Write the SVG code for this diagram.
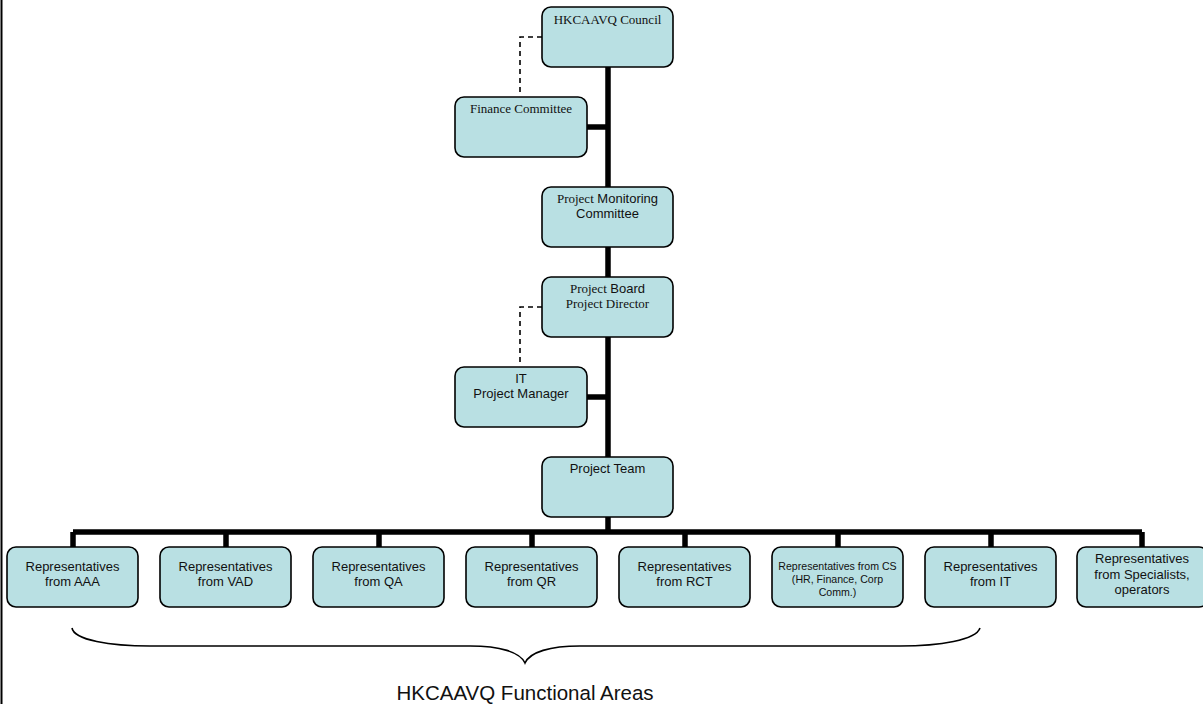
<svg xmlns="http://www.w3.org/2000/svg" width="1203" height="704" viewBox="0 0 1203 704">
<style>
.box{fill:#b9e0e3;stroke:#000;stroke-width:1.6}
.t{font-family:"Liberation Sans",Arial,sans-serif;font-size:13px;fill:#111;text-anchor:middle}
.s{font-family:"Liberation Serif","Times New Roman",serif}
.sm{font-size:10.6px}
.conn{stroke:#000;stroke-width:5.5;fill:none}
.dash{stroke:#000;stroke-width:1.6;fill:none;stroke-dasharray:5 4}
</style>
<rect width="1203" height="704" fill="#fff"/>
<line x1="1.5" y1="0" x2="1.5" y2="704" stroke="#000" stroke-width="2"/>
<g id="connectors">
<path class="conn" d="M608 67V457M608 517V532M73 532H1142M587 127H608M587 397H608"/>
<path class="conn" d="M73 532V547M226 532V547M379 532V547M532 532V547M685 532V547M838 532V547M991 532V547M1142 532V547"/>
<path class="dash" d="M542 37H520V92M542 307H520V362"/>
</g>
<g id="council"><rect class="box" x="542" y="7" width="131" height="60" rx="9"/><text class="t s" x="607.5" y="24">HKCAAVQ Council</text></g>
<g id="finance"><rect class="box" x="455" y="97" width="132" height="60" rx="9"/><text class="t s" x="521" y="113">Finance Committee</text></g>
<g id="monitoring"><rect class="box" x="542" y="187" width="131" height="60" rx="9"/><text class="t" x="607.5" y="203"><tspan class="s">Project</tspan> Monitoring</text><text class="t" x="607.5" y="218">Committee</text></g>
<g id="board"><rect class="box" x="542" y="277" width="131" height="60" rx="9"/><text class="t" x="607.5" y="293"><tspan class="s">Project</tspan> Board</text><text class="t s" x="607.5" y="308">Project Director</text></g>
<g id="itpm"><rect class="box" x="455" y="367" width="132" height="60" rx="9"/><text class="t" x="521" y="383">IT</text><text class="t" x="521" y="398">Project Manager</text></g>
<g id="team"><rect class="box" x="542" y="457" width="131" height="60" rx="9"/><text class="t" x="607.5" y="473">Project Team</text></g>
<g id="rep-aaa"><rect class="box" x="7" y="547" width="131" height="60" rx="9"/><text class="t" x="72.5" y="571">Representatives</text><text class="t" x="72.5" y="586">from AAA</text></g>
<g id="rep-vad"><rect class="box" x="160" y="547" width="131" height="60" rx="9"/><text class="t" x="225.5" y="571">Representatives</text><text class="t" x="225.5" y="586">from VAD</text></g>
<g id="rep-qa"><rect class="box" x="313" y="547" width="131" height="60" rx="9"/><text class="t" x="378.5" y="571">Representatives</text><text class="t" x="378.5" y="586">from QA</text></g>
<g id="rep-qr"><rect class="box" x="466" y="547" width="131" height="60" rx="9"/><text class="t" x="531.5" y="571">Representatives</text><text class="t" x="531.5" y="586">from QR</text></g>
<g id="rep-rct"><rect class="box" x="619" y="547" width="131" height="60" rx="9"/><text class="t" x="684.5" y="571">Representatives</text><text class="t" x="684.5" y="586">from RCT</text></g>
<g id="rep-cs"><rect class="box" x="772" y="547" width="131" height="60" rx="9"/><text class="t sm" x="837.5" y="570">Representatives from CS</text><text class="t sm" x="837.5" y="583">(HR, Finance, Corp</text><text class="t sm" x="837.5" y="596">Comm.)</text></g>
<g id="rep-it"><rect class="box" x="925" y="547" width="131" height="60" rx="9"/><text class="t" x="990.5" y="571">Representatives</text><text class="t" x="990.5" y="586">from IT</text></g>
<g id="rep-spec"><rect class="box" x="1077" y="547" width="131" height="60" rx="9"/><text class="t" x="1142" y="563">Representatives</text><text class="t" x="1142" y="579">from Specialists,</text><text class="t" x="1142" y="594">operators</text></g>
<g id="brace">
<path d="M72 628C74 640 110 646 150 646H470C500 646 520 652 525 663C530 652 550 646 580 646H900C940 646 976 640 980 628" fill="none" stroke="#000" stroke-width="1.6"/>
<text class="t" x="525" y="700" style="font-size:20.5px">HKCAAVQ Functional Areas</text>
</g>
</svg>
